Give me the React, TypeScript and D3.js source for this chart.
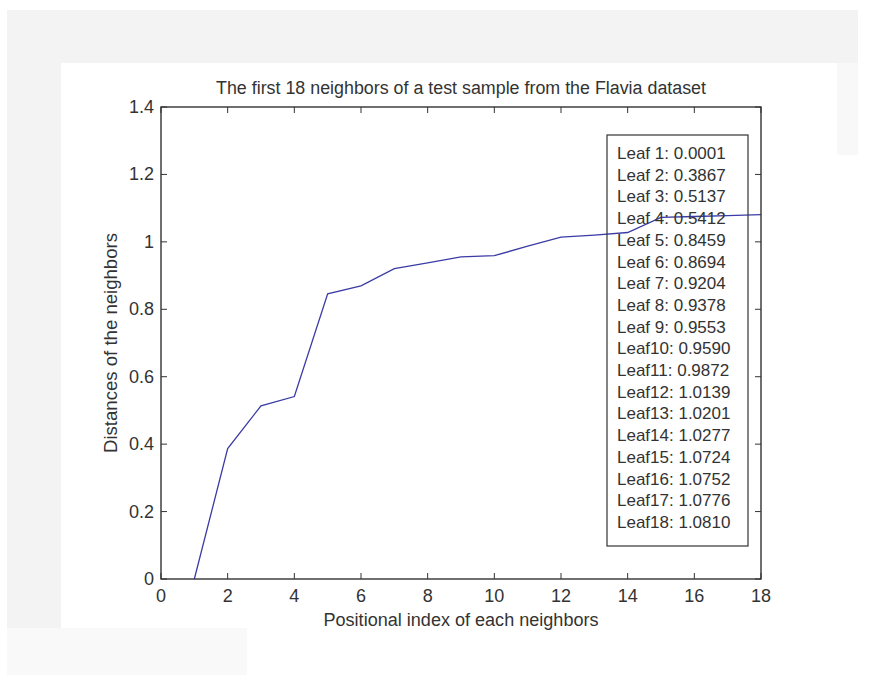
import React from 'react'
import { scaleLinear, line } from 'd3'

// Data
const positions = [1, 2, 3, 4, 5, 6, 7, 8, 9, 10, 11, 12, 13, 14, 15, 16, 17, 18]
const distances = [0.0001, 0.3867, 0.5137, 0.5412, 0.8459, 0.8694, 0.9204, 0.9378, 0.9553,
    0.9590, 0.9872, 1.0139, 1.0201, 1.0277, 1.0724, 1.0752, 1.0776, 1.0810]
const xTicks = [0, 2, 4, 6, 8, 10, 12, 14, 16, 18]
const yTicks = [0, 0.2, 0.4, 0.6, 0.8, 1, 1.2, 1.4]

const titleText = 'The first 18 neighbors of a test sample from the Flavia dataset'
const xLabel = 'Positional index of each neighbors'
const yLabel = 'Distances of the neighbors'

// Style
const font = '"Liberation Sans", Arial, sans-serif'
const axisColor = '#333'
const textColor = '#333'

const App = () => {
    const left = 161, right = 761, top = 107, bottom = 579
    const tick = 6

    const xScale = scaleLinear().domain([0, 18]).range([left, right])
    const yScale = scaleLinear().domain([0, 1.4]).range([bottom, top])

    const linea = line<number>()
        .x((d, i) => xScale(positions[i]))
        .y((d) => yScale(d))

    const legendX = 607, legendY = 135, legendW = 141, legendH = 411
    const rowStep = 21.7

    return (
        <svg width={877} height={691} style={{ position: 'absolute', left: 0, top: 0 }}
            fontFamily={font}>
            {/* background frame, faint grey round the white panel */}
            <rect x={0} y={0} width={877} height={691} fill="#fff" />
            <rect x={7} y={10} width={851} height={53} fill="#f3f3f3" />
            <rect x={7} y={63} width={54} height={565} fill="#f3f3f3" />
            <rect x={837} y={63} width={21} height={92} fill="#f8f8f8" />
            <rect x={7} y={628} width={240} height={47} fill="#f9f9f9" />

            {/* title */}
            <text x={461} y={94} textAnchor="middle" fontSize={18} fill={textColor}
                textLength={490} lengthAdjust="spacingAndGlyphs">{titleText}</text>

            {/* data line */}
            <path d={linea(distances) || ''} fill="none" stroke="#3b3ba6" strokeWidth={1.3} />

            {/* axes box */}
            <rect x={left} y={top} width={right - left} height={bottom - top}
                fill="none" stroke={axisColor} strokeWidth={1.4} />

            {xTicks.map((t) => (
                <g key={'x' + t}>
                    <line x1={xScale(t)} x2={xScale(t)} y1={bottom} y2={bottom - tick} stroke={axisColor} />
                    <line x1={xScale(t)} x2={xScale(t)} y1={top} y2={top + tick} stroke={axisColor} />
                    <text x={xScale(t)} y={602} textAnchor="middle" fontSize={18} fill={textColor}>{t}</text>
                </g>
            ))}

            {yTicks.map((t) => (
                <g key={'y' + t}>
                    <line x1={left} x2={left + tick} y1={yScale(t)} y2={yScale(t)} stroke={axisColor} />
                    <line x1={right} x2={right - tick} y1={yScale(t)} y2={yScale(t)} stroke={axisColor} />
                    <text x={154} y={yScale(t) + 6} textAnchor="end" fontSize={18} fill={textColor}>{t}</text>
                </g>
            ))}

            {/* axis labels */}
            <text x={461} y={626} textAnchor="middle" fontSize={18} fill={textColor}
                textLength={275} lengthAdjust="spacingAndGlyphs">{xLabel}</text>
            <text transform={`translate(117, ${(top + bottom) / 2}) rotate(-90)`} textAnchor="middle"
                fontSize={18} fill={textColor} textLength={220} lengthAdjust="spacingAndGlyphs">{yLabel}</text>

            {/* legend */}
            <rect x={legendX} y={legendY} width={legendW} height={legendH}
                fill="none" stroke={axisColor} strokeWidth={1.2} />
            {distances.map((d, i) => (
                <text key={'leg' + i} x={617} y={159 + i * rowStep} fontSize={17} fill={textColor}>
                    {`Leaf${positions[i] < 10 ? ' ' + positions[i] : positions[i]}: ${d.toFixed(4)}`}
                </text>
            ))}
        </svg>
    )
}

export default App
